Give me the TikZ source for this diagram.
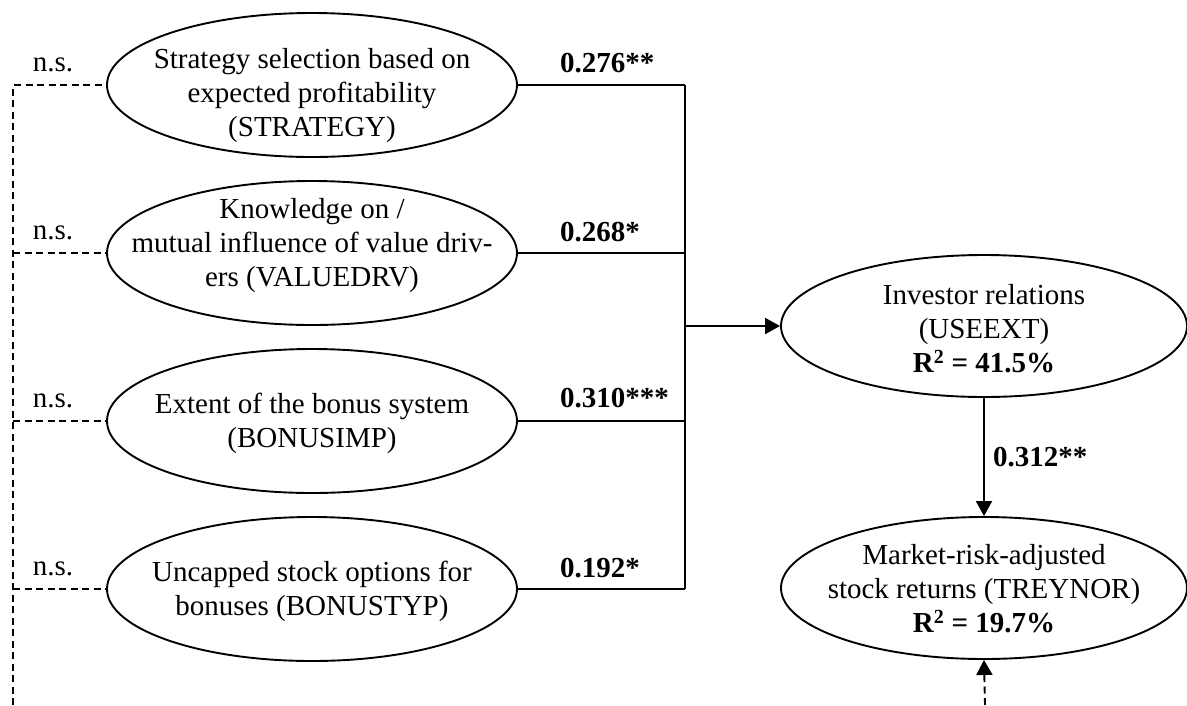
\documentclass[tikz,border=0pt]{standalone}
\usepackage{fontspec}
\setmainfont{Liberation Serif}
\usetikzlibrary{shapes.geometric,arrows.meta}
\begin{document}
\begin{tikzpicture}[x=1pt,y=-1pt,
  every node/.style={font=\fontsize{29}{34}\selectfont},
  ell/.style={draw,ellipse,line width=1.9pt,inner sep=0pt,minimum width=410pt,minimum height=144pt},
  rell/.style={draw,ellipse,line width=1.9pt,inner sep=0pt,minimum width=406pt,minimum height=142pt},
  txt/.style={align=center,inner sep=0pt},
  coef/.style={anchor=west,inner sep=0pt,font=\fontsize{29}{34}\selectfont\bfseries},
  nslab/.style={inner sep=0pt},
  solidline/.style={line width=1.9pt},
  dashline/.style={line width=1.9pt,dash pattern=on 7pt off 4.5pt},
  tip/.style={-{Triangle[length=15pt,width=16pt]}}
]
\useasboundingbox (0,0) rectangle (1187,705);

% left ellipses
\node[ell] (s1) at (312,85) {};
\node[ell] (s2) at (312,253) {};
\node[ell] (s3) at (312,421) {};
\node[ell] (s4) at (312,589) {};
\node[txt] (s1t) at (312,96) {Strategy selection based on\\expected profitability\\(STRATEGY)};
\node[txt] (s2t) at (312,246) {Knowledge on /\\mutual influence of value driv-\\ers (VALUEDRV)};
\node[txt] (s3t) at (312,423) {Extent of the bonus system\\(BONUSIMP)};
\node[txt] (s4t) at (312,591) {Uncapped stock options for\\bonuses (BONUSTYP)};

% right ellipses
\node[rell] (ue) at (984,326) {};
\node[txt] (uet) at (984,329) {Investor relations\\(USEEXT)\\\textbf{R\textsuperscript{\fontsize{20}{20}\selectfont 2} = 41.5\%}};
\node[rell] (tr) at (984,588) {};
\node[txt] (trt) at (984,589) {Market-risk-adjusted\\stock returns (TREYNOR)\\\textbf{R\textsuperscript{\fontsize{20}{20}\selectfont 2} = 19.7\%}};

% junction coordinates
\coordinate (j1) at (685,85);
\coordinate (j2) at (685,253);
\coordinate (j3) at (685,421);
\coordinate (j4) at (685,589);
\coordinate (jm) at (685,326);

\draw[solidline] (s1.east) -- (j1);
\draw[solidline] (s2.east) -- (j2);
\draw[solidline] (s3.east) -- (j3);
\draw[solidline] (s4.east) -- (j4);
\draw[solidline] (j1) -- (j4);
\draw[solidline,tip] (jm) -- (ue.west);
\draw[solidline,tip] (ue.south) -- (tr.north);

% coefficient labels
\node[coef] (c1) at (560,63) {0.276**};
\node[coef] (c2) at (560,232) {0.268*};
\node[coef] (c3) at (560,398) {0.310***};
\node[coef] (c4) at (560,568) {0.192*};
\node[coef] (c5) at (993,457) {0.312**};

% dashed error paths
\coordinate (d0) at (13,705);
\coordinate (d1) at (13,85);
\coordinate (d2) at (13,253);
\coordinate (d3) at (13,421);
\coordinate (d4) at (13,589);
\draw[dashline] (d0) -- (d1) -- (s1.west);
\draw[dashline] (d2) -- (s2.west);
\draw[dashline] (d3) -- (s3.west);
\draw[dashline] (d4) -- (s4.west);
\node[nslab] (n1) at (53,65) {n.s.};
\node[nslab] (n2) at (53,233) {n.s.};
\node[nslab] (n3) at (53,401) {n.s.};
\node[nslab] (n4) at (53,569) {n.s.};

\coordinate (e0) at (985,705);
\draw[dashline,tip] (e0) -- (tr.south);
\end{tikzpicture}
\end{document}
